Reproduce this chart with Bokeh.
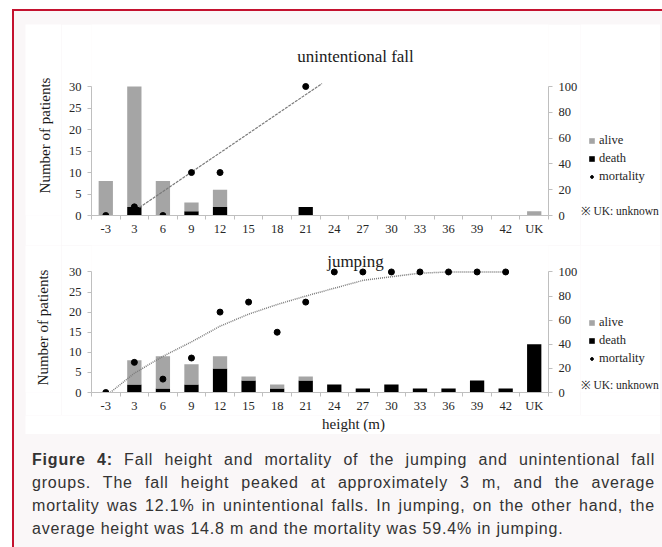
import math
from bokeh.plotting import figure
from bokeh.models import (Range1d, LinearAxis, FixedTicker, Legend, LegendItem,
                          Label, Div, Spacer, ColumnDataSource)
from bokeh.layouts import column, row
from bokeh.embed import file_html
from bokeh.resources import INLINE

# ---------------- data ----------------
categories = ["-3", "3", "6", "9", "12", "15", "18", "21", "24", "27",
              "30", "33", "36", "39", "42", "UK"]

unint_alive = [8, 28, 8, 2, 4, 0, 0, 0, 0, 0, 0, 0, 0, 0, 0, 1]
unint_death = [0, 2, 0, 1, 2, 0, 0, 2, 0, 0, 0, 0, 0, 0, 0, 0]
unint_mortality = [0, 6.7, 0, 33.3, 33.3, None, None, 100, None, None,
                   None, None, None, None, None, None]
unint_trend_x = [2.18, 8.57]          # linear trend line (category positions)
unint_trend_y = [6.2, 102.3]

jump_alive = [0, 6, 8, 5, 3, 1, 1, 1, 0, 0, 0, 0, 0, 0, 0, 0]
jump_death = [0, 2, 1, 2, 6, 3, 1, 3, 2, 1, 2, 1, 1, 3, 1, 12]
jump_mortality = [0, 25, 11.1, 28.6, 66.7, 75, 50, 75, 100, 100, 100, 100,
                  100, 100, 100, None]
jump_trend_x = [1.16, 2, 3, 4, 5, 6, 7, 8, 9, 10, 11, 12, 13, 14, 15]
jump_trend_y = [0, 16, 30, 42, 55, 65, 73, 80, 86.5, 93, 96, 99, 100, 100, 100]

left_ticks = [0, 5, 10, 15, 20, 25, 30]
right_ticks = [0, 20, 40, 60, 80, 100]
COUNT_MAX = 30
PCT_MAX = 100

GRAY = "#a5a5a5"
BLACK = "#000000"
AXIS = "#bfbfbf"
TXT = "#262626"
SERIF = "Liberation Serif"
NAN = float("nan")


def blank_fig(w, h):
    f = figure(width=w, height=h, output_backend="svg", toolbar_location=None,
               x_range=Range1d(0, 1), y_range=Range1d(0, 1),
               x_axis_location=None, y_axis_location=None,
               min_border=0, min_border_left=0, min_border_right=0,
               min_border_top=0, min_border_bottom=0)
    f.outline_line_color = None
    f.grid.visible = False
    f.background_fill_color = "white"
    f.border_fill_color = "white"
    return f


def make_chart(alive, death, mortality, trend_x, trend_y, trend_dash,
               trend_w, height, frame_h, px_per_unit, bottom_border, title,
               title_xy):
    n = len(categories)
    pos = [i + 1 for i in range(n)]
    ytop = frame_h / px_per_unit
    p = figure(width=519, height=height, output_backend="svg",
               toolbar_location=None, x_range=Range1d(0.5, n + 0.5),
               y_range=Range1d(0, ytop), min_border_left=30,
               min_border_right=31, min_border_top=0,
               min_border_bottom=bottom_border)
    p.outline_line_color = None
    p.grid.visible = False
    p.background_fill_color = "white"
    p.border_fill_color = "white"
    p.extra_y_ranges = {"pct": Range1d(0, ytop * PCT_MAX / COUNT_MAX)}

    src = ColumnDataSource(dict(
        x=pos, death=death,
        total=[a + d for a, d in zip(alive, death)]))
    p.vbar(x="x", bottom=0, top="death", width=0.5, source=src,
           fill_color=BLACK, line_color=None)
    p.vbar(x="x", bottom="death", top="total", width=0.5, source=src,
           fill_color=GRAY, line_color=None)

    p.line(trend_x, trend_y, y_range_name="pct", line_color="#7a7a7a",
           line_width=trend_w, line_dash=trend_dash)

    mx = [pos[i] for i, v in enumerate(mortality) if v is not None]
    my = [v for v in mortality if v is not None]
    p.scatter(mx, my, y_range_name="pct", size=6, marker="circle",
              fill_color=BLACK, line_color=BLACK)

    # x axis (category labels at centres, small ticks between categories)
    xa = p.xaxis[0]
    xa.ticker = FixedTicker(ticks=pos,
                            minor_ticks=[i + 0.5 for i in range(n + 1)])
    xa.major_label_overrides = {pp: c for pp, c in zip(pos, categories)}
    xa.major_tick_line_color = None
    xa.major_tick_out = 0
    xa.major_tick_in = 0
    xa.minor_tick_in = 0
    xa.minor_tick_out = 4
    xa.minor_tick_line_color = AXIS
    xa.axis_line_color = AXIS
    xa.major_label_standoff = 2
    xa.major_label_text_font = SERIF
    xa.major_label_text_font_size = "12.5px"
    xa.major_label_text_color = TXT

    ya = p.yaxis[0]
    ya.ticker = FixedTicker(ticks=left_ticks)
    ya.bounds = (0, COUNT_MAX)
    ya.axis_line_color = AXIS
    ya.major_tick_line_color = AXIS
    ya.major_tick_out = 4
    ya.major_tick_in = 0
    ya.minor_tick_line_color = None
    ya.major_label_standoff = 6
    ya.major_label_text_font = SERIF
    ya.major_label_text_font_size = "12.5px"
    ya.major_label_text_color = TXT

    ra = LinearAxis(y_range_name="pct", ticker=FixedTicker(ticks=right_ticks),
                    bounds=(0, PCT_MAX))
    ra.axis_line_color = AXIS
    ra.major_tick_line_color = AXIS
    ra.major_tick_out = 4
    ra.major_tick_in = 0
    ra.minor_tick_line_color = None
    ra.major_label_standoff = 6
    ra.major_label_text_font = SERIF
    ra.major_label_text_font_size = "12.5px"
    ra.major_label_text_color = TXT
    p.add_layout(ra, "right")

    p.add_layout(Label(x=title_xy[0], y=title_xy[1], x_units="screen",
                       y_units="screen", text=title, text_font=SERIF,
                       text_font_size="17px", text_color="#1a1a1a",
                       text_align="center", text_baseline="middle"))
    return p


def ylabel_fig(h, xy):
    # frame of this figure is aligned with the neighbouring chart frame
    f = blank_fig(36, h)
    f.add_layout(Label(x=xy[0], y=xy[1], x_units="screen", y_units="screen",
                       text="Number of patients", angle=math.pi / 2,
                       text_font=SERIF, text_font_size="15px",
                       text_color="#1a1a1a", text_align="center",
                       text_baseline="middle"))
    return f


def legend_fig(h, legend_xy, uk_xy):
    f = blank_fig(80, h)
    r_alive = f.vbar(x=[NAN], top=[NAN], width=0.5, fill_color=GRAY,
                     line_color=None)
    r_death = f.vbar(x=[NAN], top=[NAN], width=0.5, fill_color=BLACK,
                     line_color=None)
    r_mort = f.scatter(x=[NAN], y=[NAN], size=6, marker="circle",
                       fill_color=BLACK, line_color=BLACK)
    legend = Legend(items=[LegendItem(label="alive", renderers=[r_alive]),
                           LegendItem(label="death", renderers=[r_death]),
                           LegendItem(label="mortality", renderers=[r_mort])],
                    location=legend_xy, orientation="vertical",
                    glyph_width=7, glyph_height=7, label_height=14,
                    label_standoff=4, spacing=3, padding=0, margin=0,
                    border_line_color=None, background_fill_alpha=0,
                    label_text_font=SERIF, label_text_font_size="12.5px",
                    label_text_color=TXT)
    f.add_layout(legend)
    f.add_layout(Label(x=uk_xy[0], y=uk_xy[1], x_units="screen",
                       y_units="screen", text="\u203b UK: unknown",
                       text_font=SERIF, text_font_size="11.5px",
                       text_color=TXT, text_align="left",
                       text_baseline="middle"))
    return f


p1 = make_chart(unint_alive, unint_death, unint_mortality, unint_trend_x,
                unint_trend_y, "3 1", 1.2, height=221, frame_h=191,
                px_per_unit=129 / 30, bottom_border=30,
                title="unintentional fall", title_xy=(264, 159))
p2 = make_chart(jump_alive, jump_death, jump_mortality, jump_trend_x,
                jump_trend_y, "1 1", 1.5, height=170, frame_h=150,
                px_per_unit=123 / 30, bottom_border=20,
                title="jumping", title_xy=(264, 131))

yl1 = ylabel_fig(221, (19, 80))
yl2 = ylabel_fig(170, (17, 65))
lg1 = legend_fig(221, (8, 31), (0, 5))
lg2 = legend_fig(170, (8, 26), (0, 8))

xl = blank_fig(635, 19)
xl.add_layout(Label(x=328, y=11, x_units="screen", y_units="screen",
                    text="height (m)", text_font=SERIF, text_font_size="15px",
                    text_color="#1a1a1a", text_align="center",
                    text_baseline="middle"))

cap_html = (
    "<div style=\"font-family:'Liberation Sans',Arial,sans-serif;"
    "font-size:16px;line-height:23px;letter-spacing:0.8px;color:#333333;"
    "padding-top:9px;width:623px;\">"
    "<div style='text-align:justify;text-align-last:justify;'><b>Figure 4:</b> "
    "Fall height and mortality of the jumping and unintentional fall</div>"
    "<div style='text-align:justify;text-align-last:justify;'>groups. The fall "
    "height peaked at approximately 3 m, and the average</div>"
    "<div style='text-align:justify;text-align-last:justify;'>mortality was "
    "12.1% in unintentional falls. In jumping, on the other hand, the</div>"
    "<div>average height was 14.8 m and the mortality was 59.4% in jumping.</div>"
    "</div>")
cap = Div(text=cap_html, width=625, height=112)

white = column(row(yl1, p1, lg1), row(yl2, p2, lg2), xl)

frame_col = column(
    Spacer(width=647, height=13),
    row(Spacer(width=11, height=410), white, Spacer(width=1, height=10)),
    row(Spacer(width=13, height=112), cap),
    styles={"background-color": "#faf7f8",
            "border-left": "2px solid #c4122f",
            "border-top": "2px solid #c4122f"})

root = column(Spacer(width=10, height=9),
              row(Spacer(width=12, height=10), frame_col))

open("out.html", "w").write(file_html(root, INLINE))
